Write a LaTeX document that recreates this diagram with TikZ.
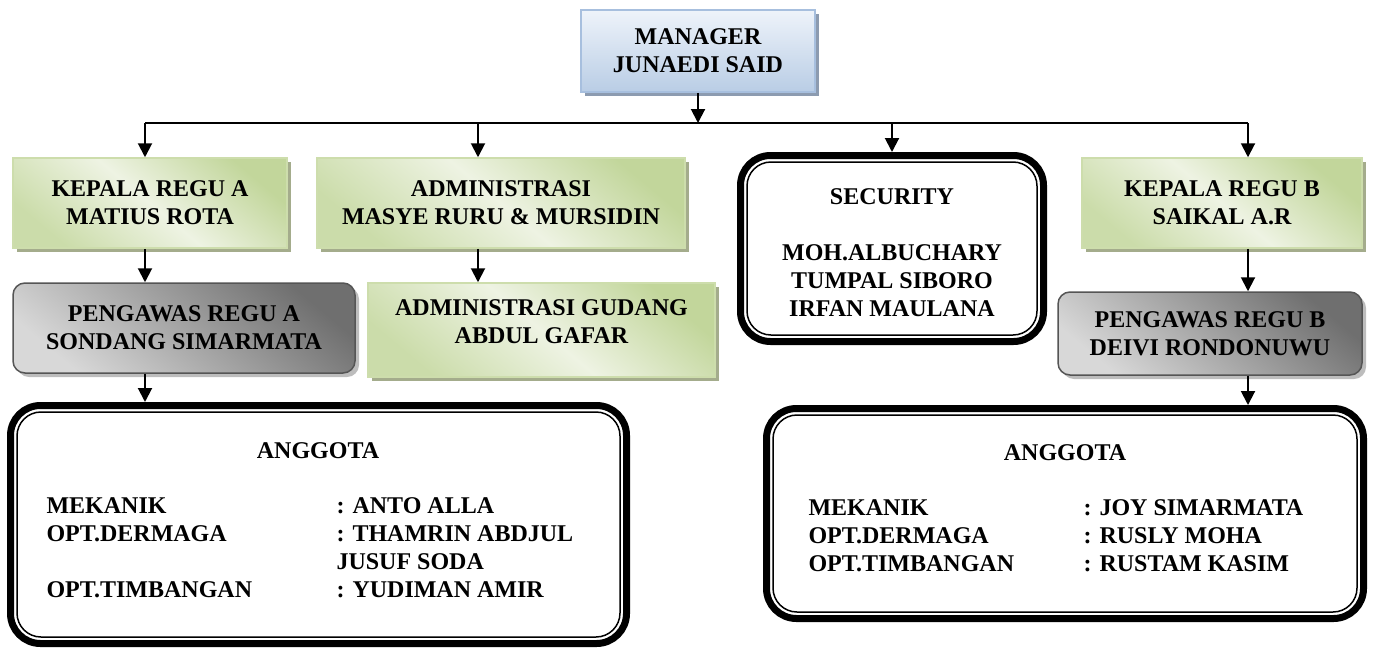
\documentclass[tikz,border=0pt]{standalone}
\usepackage{fontspec}
\setmainfont{Liberation Serif}
\usetikzlibrary{arrows.meta,shadows}

\definecolor{grnDark}{HTML}{C2D69B}
\definecolor{grnLight}{HTML}{EEF3E3}
\definecolor{grnEdge}{HTML}{CDDDAC}
\definecolor{grnShadow}{HTML}{A4AC8C}
\definecolor{bluTop}{HTML}{EEF3FA}
\definecolor{bluBot}{HTML}{B9CDE5}
\definecolor{bluEdge}{HTML}{A7BFDE}
\definecolor{bluShadow}{HTML}{8C9BB0}
\definecolor{gryDark}{HTML}{6F6F6F}
\definecolor{gryLight}{HTML}{D8D8D8}
\definecolor{gryEdge}{HTML}{555555}
\definecolor{gryShadow}{HTML}{BDBDBD}

\tikzset{
  lbl/.style={font=\fontsize{24}{28}\selectfont\bfseries, align=center},
  mgrbox/.style={lbl, draw=bluEdge, line width=1.5pt, top color=bluTop, bottom color=bluBot,
    drop shadow={shadow xshift=4pt, shadow yshift=-4pt, fill=bluShadow, opacity=1}},
  greenbox/.style={lbl, draw=grnEdge, line width=1.5pt,
    top color=grnDark, bottom color=grnDark!85!white, middle color=grnLight, shading angle=-40,
    drop shadow={shadow xshift=4pt, shadow yshift=-4pt, fill=grnShadow, opacity=1}},
  greybox/.style={lbl, draw=gryEdge, line width=1.5pt, rounded corners=12pt,
    top color=gryDark, bottom color=gryLight, shading angle=-40,
    drop shadow={shadow xshift=4pt, shadow yshift=-4pt, fill=gryShadow, opacity=1}},
  framebox/.style={draw, fill=white, line width=7pt, rounded corners=30pt},
  arr/.style={-{Triangle[width=14pt,length=14pt]}, line width=2pt}
}

\begin{document}
\begin{tikzpicture}[x=1pt, y=-1pt]
    \useasboundingbox (0,0) rectangle (1373,648);

    % top
    \node[mgrbox, minimum width=234pt, minimum height=82pt] (mgr) at (698,51) {MANAGER\\JUNAEDI SAID};

    % second row
    \node[greenbox, minimum width=274pt, minimum height=90pt] (kepA) at (150,203) {KEPALA REGU A\\MATIUS ROTA};
    \node[greenbox, minimum width=368pt, minimum height=90pt] (adm) at (501,203) {ADMINISTRASI\\MASYE RURU \& MURSIDIN};
    \node[framebox, minimum width=303pt, minimum height=186pt] (secF) at (892,248.5) {};
    \node[greenbox, minimum width=280pt, minimum height=90pt] (kepB) at (1222,203) {KEPALA REGU B\\SAIKAL A.R};

    % third row
    \node[greybox, minimum width=342pt, minimum height=90pt] (pgA) at (184,328) {PENGAWAS REGU A\\SONDANG SIMARMATA};
    \node[greenbox, minimum width=347pt, minimum height=94pt] (gud) at (541.5,330) {ADMINISTRASI GUDANG\\ABDUL GAFAR\\[-12pt]};
    \node[greybox, minimum width=304pt, minimum height=83pt] (pgB) at (1210,333.5) {PENGAWAS REGU B\\DEIVI RONDONUWU};

    % members
    \node[framebox, minimum width=616pt, minimum height=238pt] (angA) at (318.5,524.5) {};
    \node[framebox, minimum width=597pt, minimum height=210pt] (angB) at (1065,513.5) {};

    % inner thin frames
    \foreach \f in {secF,angA,angB}
        \draw[line width=1.5pt, rounded corners=24pt] ([shift={(10,10)}]\f.north west) rectangle ([shift={(-10,-10)}]\f.south east);

    \node[lbl, anchor=base] (secT) at (892,316) {SECURITY\\[28pt]MOH.ALBUCHARY\\TUMPAL SIBORO\\IRFAN MAULANA};

    \node[lbl, anchor=base] (angAT) at (318,458) {ANGGOTA};
    \node[lbl, anchor=base west] (angAL) at (43,513) {\begin{tabular}[t]{@{}p{290pt}@{}l@{}}
        MEKANIK & : ANTO ALLA\\
        OPT.DERMAGA & : THAMRIN ABDJUL\\
         & JUSUF SODA\\
        OPT.TIMBANGAN & : YUDIMAN AMIR
    \end{tabular}};

    \node[lbl, anchor=base] (angBT) at (1065,460) {ANGGOTA};
    \node[lbl, anchor=base west] (angBL) at (805,515) {\begin{tabular}[t]{@{}p{275pt}@{}l@{}}
        MEKANIK & : JOY SIMARMATA\\
        OPT.DERMAGA & : RUSLY MOHA\\
        OPT.TIMBANGAN & : RUSTAM KASIM
    \end{tabular}};

    % connectors
    \coordinate (busL) at (145,123);
    \coordinate (busR) at (1248,123);
    \coordinate (busAdm) at (478,123);
    \draw[arr] (mgr.south) -- (mgr.south |- busL);
    \draw[line width=2pt] (busL) -- (busR);
    \draw[arr] (busL) -- (busL |- kepA.north);
    \draw[arr] (busAdm) -- (busAdm |- adm.north);
    \draw[arr] (secF.north |- busL) -- (secF.north);
    \draw[arr] (busR) -- (busR |- kepB.north);
    \draw[arr] (kepA.south -| busL) -- (pgA.north -| busL);
    \draw[arr] (adm.south -| busAdm) -- (gud.north -| busAdm);
    \draw[arr] (kepB.south -| busR) -- (pgB.north -| busR);
    \draw[arr] (pgA.south -| busL) -- (angA.north -| busL);
    \draw[arr] (pgB.south -| busR) -- (angB.north -| busR);
\end{tikzpicture}
\end{document}
